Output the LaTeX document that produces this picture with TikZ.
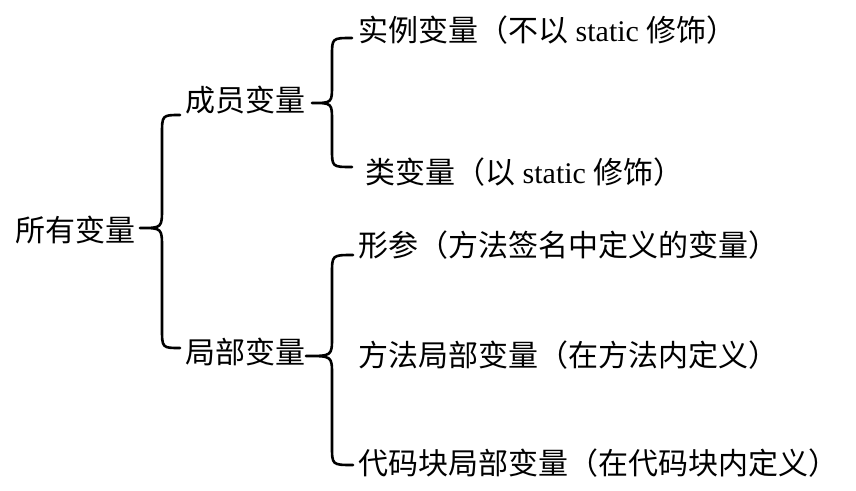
\documentclass[tikz,border=0pt]{standalone}
\usepackage{fontspec}
\setmainfont{Noto Sans CJK SC}
\newfontfamily\lat{Liberation Serif}
\begin{document}
\begin{tikzpicture}[x=1pt,y=-1pt,
  lbl/.style={anchor=west,inner sep=0pt,font=\fontsize{30}{32}\selectfont},
  bracepath/.style={line width=2.6pt,line cap=round,line join=round}]
\useasboundingbox (0,0) rectangle (856,490);
\node[lbl] (all) at (15,230) {所有变量};
\node[lbl] (member) at (185,100) {成员变量};
\node[lbl] (local) at (185,352) {局部变量};
\node[lbl] (inst) at (358,30) {实例变量（不以{\lat\ static\ }修饰）};
\node[lbl] (cls) at (365,172) {类变量（以{\lat\ static\ }修饰）};
\node[lbl] (param) at (358,245) {形参（方法签名中定义的变量）};
\node[lbl] (method) at (358,355) {方法局部变量（在方法内定义）};
\node[lbl] (block) at (358,463) {代码块局部变量（在代码块内定义）};
% big brace
\draw[bracepath] (180,115) .. controls (162,115) .. (162,135) -- (162,208)
  .. controls (162,228) .. (140,228) .. controls (162,228) .. (162,248)
  -- (162,328) .. controls (162,348) .. (180,348);
% member brace
\draw[bracepath] (352,38) .. controls (332,38) .. (332,56) -- (332,85)
  .. controls (332,103) .. (312,103) .. controls (332,103) .. (332,121)
  -- (332,149) .. controls (332,167) .. (352,167);
% local brace
\draw[bracepath] (353,255) .. controls (332,255) .. (332,274) -- (332,337)
  .. controls (332,356) .. (306,356) .. controls (332,356) .. (332,375)
  -- (332,446) .. controls (332,465) .. (353,465);
\end{tikzpicture}
\end{document}
